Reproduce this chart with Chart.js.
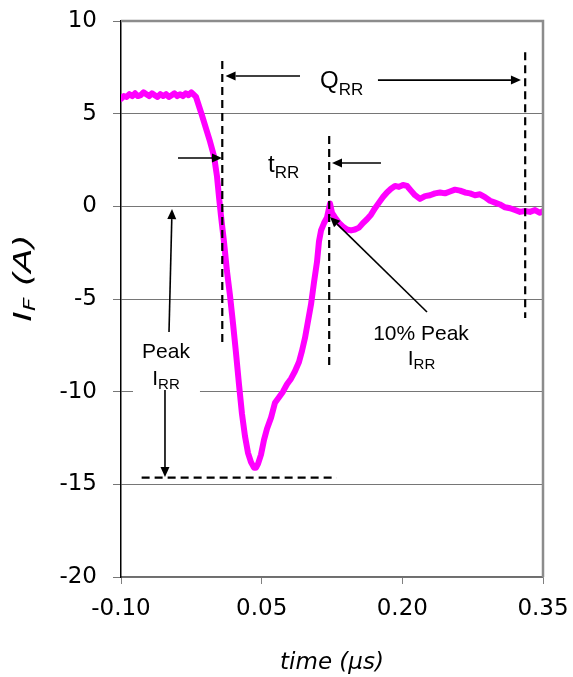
<!DOCTYPE html>
<html><head><meta charset="utf-8">
<script src="https://cdn.jsdelivr.net/npm/chart.js@4.4.1/dist/chart.umd.min.js"></script>
<style>html,body{margin:0;padding:0;background:#fff;}canvas{display:block;}</style>
</head><body>
<canvas id="c" width="573" height="677"></canvas>
<script>
// ---- data ----
const timeUs = [
-0.100,-0.097,-0.094,-0.091,-0.088,-0.085,-0.082,-0.079,-0.076,-0.073,
-0.070,-0.067,-0.064,-0.061,-0.058,-0.055,-0.052,-0.049,-0.046,-0.043,
-0.040,-0.037,-0.034,-0.031,-0.028,-0.025,-0.023,-0.020,-0.0168,-0.0136,
-0.0094,-0.0051,-0.0008,0.0024,0.0045,0.0066,0.0098,0.0130,0.0162,0.0194,
0.0226,0.0258,0.0290,0.0322,0.0354,0.0386,0.0418,0.0440,0.0461,0.0493,
0.0525,0.0557,0.0600,0.0642,0.0685,0.0727,0.0770,0.0813,0.0855,0.0898,
0.0930,0.0962,0.0994,0.1026,0.1058,0.1090,0.1111,0.1133,0.1165,0.1197,
0.1229,0.1250,0.1282,0.1325,0.1367,0.1410,0.1453,0.1495,0.1538,0.1581,
0.1623,0.1666,0.1709,0.1751,0.1794,0.1836,0.1879,0.1922,0.1964,0.2007,
0.2050,0.2092,0.2135,0.2188,0.2242,0.2295,0.2348,0.2402,0.2455,0.2508,
0.2562,0.2615,0.2668,0.2722,0.2775,0.2828,0.2881,0.2935,0.2988,0.3041,
0.3095,0.3148,0.3201,0.3255,0.3308,0.3361,0.3415,0.3468,0.3500];
const currentA = [
5.80,5.95,5.90,6.05,5.95,6.10,5.95,6.00,6.15,6.05,
5.95,6.10,6.00,5.90,6.05,5.95,6.05,5.90,6.00,6.10,
5.95,6.05,5.95,6.10,6.00,6.15,6.05,5.90,5.40,4.90,
4.20,3.50,2.70,1.60,0.50,-0.50,-1.90,-3.50,-4.80,-6.30,
-7.90,-9.60,-11.20,-12.40,-13.30,-13.80,-14.10,-14.10,-13.90,-13.40,
-12.60,-12.00,-11.40,-10.60,-10.30,-10.00,-9.60,-9.30,-8.90,-8.40,
-7.80,-7.10,-6.20,-5.30,-4.10,-3.00,-1.90,-1.30,-0.90,-0.60,
0.15,-0.35,-0.60,-0.90,-1.10,-1.25,-1.30,-1.25,-1.15,-0.90,
-0.70,-0.45,-0.10,0.20,0.50,0.75,0.95,1.10,1.05,1.15,
1.10,0.85,0.60,0.40,0.55,0.60,0.70,0.75,0.70,0.80,
0.90,0.85,0.75,0.70,0.60,0.65,0.50,0.30,0.20,0.10,
-0.05,-0.10,-0.20,-0.30,-0.25,-0.30,-0.20,-0.35,-0.25];
const xTickValues = [-0.10, 0.05, 0.20, 0.35];
const yTickValues = [-20, -15, -10, -5, 0, 5, 10];
const xTitleText = 'time (μs)';

// ---- annotation definitions (data coordinates) ----
const FONT = '"Liberation Sans", Arial, Helvetica, sans-serif';
const AXFONT = '"DejaVu Sans", Verdana, sans-serif';
const dashedLines = [
  {x1: 0.008, y1: 7.84, x2: 0.008, y2: -7.43},
  {x1: 0.122, y1: 3.79, x2: 0.122, y2: -8.67},
  {x1: 0.331, y1: 8.32, x2: 0.331, y2: -6.03},
  {x1: -0.078, y1: -14.64, x2: 0.130, y2: -14.64}
];
const arrows = [
  {x1: 0.0909, y1: 7.03, x2: 0.0115, y2: 7.03},
  {x1: 0.174, y1: 6.81, x2: 0.3265, y2: 6.81},
  {x1: -0.0392, y1: 2.61, x2: 0.0077, y2: 2.61},
  {x1: 0.1772, y1: 2.34, x2: 0.125, y2: 2.34},
  {x1: -0.0488, y1: -6.78, x2: -0.0456, y2: -0.15},
  {x1: -0.0531, y1: -9.91, x2: -0.0531, y2: -14.61},
  {x1: 0.2263, y1: -5.70, x2: 0.1229, y2: -0.58}
];
const whiteBoxes = [ {x1: -0.0872, y1: -6.99, x2: -0.0158, y2: -10.25} ];
const textLabels = [
  {x: 0.1122, y: 6.38, align: 'left', parts: [{t: 'Q', s: 24}, {t: 'RR', s: 17, dy: 7}]},
  {x: 0.0568, y: 1.85, align: 'left', parts: [{t: 't', s: 24}, {t: 'RR', s: 17, dy: 6}]},
  {x: -0.052, y: -8.19, align: 'center', parts: [{t: 'Peak', s: 21}]},
  {x: -0.052, y: -9.64, align: 'center', parts: [{t: 'I', s: 21}, {t: 'RR', s: 15, dy: 4}]},
  {x: 0.2199, y: -7.22, align: 'center', parts: [{t: '10% Peak', s: 21}]},
  {x: 0.2204, y: -8.56, align: 'center', parts: [{t: 'I', s: 21}, {t: 'RR', s: 15, dy: 4}]}
];
const yTitleParts = [{t: 'I', s: 24, i: true, f: AXFONT}, {t: 'F', s: 16, i: true, dy: 4, f: AXFONT}, {t: ' (A)', s: 24, i: true, f: AXFONT}];

function drawRich(ctx, parts, x, y, align) {
  let w = 0; const ms = [];
  const fnt = p => (p.i ? 'italic ' : '') + p.s + 'px ' + (p.f || FONT);
  for (const p of parts) {
    ctx.font = fnt(p);
    const m = ctx.measureText(p.t).width; ms.push(m); w += m;
  }
  let cx = align === 'center' ? x - w / 2 : (align === 'right' ? x - w : x);
  ctx.textAlign = 'left'; ctx.textBaseline = 'alphabetic';
  parts.forEach((p, k) => {
    ctx.font = fnt(p);
    ctx.fillText(p.t, cx, y + (p.dy || 0));
    cx += ms[k];
  });
}

function drawArrow(ctx, x1, y1, x2, y2) {
  const ang = Math.atan2(y2 - y1, x2 - x1);
  const hl = 10, hw = 4.5;
  const bx = x2 - hl * Math.cos(ang), by = y2 - hl * Math.sin(ang);
  ctx.beginPath(); ctx.moveTo(x1, y1); ctx.lineTo(bx, by); ctx.stroke();
  ctx.beginPath();
  ctx.moveTo(x2, y2);
  ctx.lineTo(bx + hw * Math.sin(ang), by - hw * Math.cos(ang));
  ctx.lineTo(bx - hw * Math.sin(ang), by + hw * Math.cos(ang));
  ctx.closePath(); ctx.fill();
}

const annotPlugin = {
  id: 'annot',
  afterDatasetsDraw(chart) {
    const {ctx, chartArea: a} = chart;
    const sx = chart.scales.x, sy = chart.scales.y;
    const px = v => sx.getPixelForValue(v), py = v => sy.getPixelForValue(v);
    ctx.save();
    ctx.strokeStyle = '#8c8c8c'; ctx.lineWidth = 2.5;
    ctx.beginPath(); ctx.moveTo(a.left, a.top); ctx.lineTo(a.right, a.top); ctx.lineTo(a.right, a.bottom); ctx.stroke();
    ctx.fillStyle = '#ffffff';
    for (const b of whiteBoxes) {
      ctx.fillRect(px(b.x1), py(b.y1), px(b.x2) - px(b.x1), py(b.y2) - py(b.y1));
    }
    ctx.strokeStyle = '#000'; ctx.lineWidth = 2.2; ctx.setLineDash([8, 5]);
    for (const d of dashedLines) {
      ctx.beginPath(); ctx.moveTo(px(d.x1), py(d.y1)); ctx.lineTo(px(d.x2), py(d.y2)); ctx.stroke();
    }
    ctx.setLineDash([]);
    ctx.lineWidth = 1.6; ctx.fillStyle = '#000';
    for (const r of arrows) drawArrow(ctx, px(r.x1), py(r.y1), px(r.x2), py(r.y2));
    ctx.fillStyle = '#000';
    for (const l of textLabels) drawRich(ctx, l.parts, px(l.x), py(l.y), l.align);
    // y-axis title (rotated)
    ctx.translate(31, 278);
    ctx.rotate(-Math.PI / 2);
    ctx.scale(1.48, 1);
    drawRich(ctx, yTitleParts, 0, 0, 'center');
    ctx.restore();
  }
};

const points = timeUs.map((t, k) => ({x: t, y: currentA[k]}));

new Chart(document.getElementById('c'), {
  type: 'line',
  data: {datasets: [{
    data: points,
    borderColor: '#ff00ff',
    borderWidth: 6,
    pointRadius: 0,
    tension: 0,
    borderJoinStyle: 'round',
    borderCapStyle: 'round'
  }]},
  options: {
    responsive: false,
    animation: false,
    devicePixelRatio: 1,
    layout: {padding: {left: 0, right: 30, top: 21, bottom: 0}},
    plugins: {legend: {display: false}, tooltip: {enabled: false}},
    scales: {
      x: {
        type: 'linear', min: -0.10, max: 0.35,
        afterBuildTicks: s => { s.ticks = xTickValues.map(v => ({value: v})); },
        afterFit: s => { s.height = 100; s.paddingLeft = 0; s.paddingRight = 0; },
        ticks: {
          callback: v => Number(v).toFixed(2),
          color: '#000', font: {family: AXFONT, size: 23}, padding: 11,
          maxRotation: 0, autoSkip: false
        },
        grid: {drawOnChartArea: false, drawTicks: true, tickLength: 7, tickColor: '#808080', tickWidth: 1},
        border: {display: true, color: '#6e6e6e', width: 1.5},
        title: {display: true, text: xTitleText, color: '#000',
          font: {family: AXFONT, size: 23, style: 'italic'}, padding: {top: 0, bottom: 0}}
      },
      y: {
        type: 'linear', min: -20, max: 10,
        afterBuildTicks: s => { s.ticks = yTickValues.map(v => ({value: v})); },
        afterFit: s => { s.width = 121; s.paddingTop = 0; s.paddingBottom = 0; },
        ticks: {color: '#000', font: {family: AXFONT, size: 23}, padding: 16},
        grid: {color: '#767676', lineWidth: 1, tickLength: 8, tickColor: '#767676', drawTicks: true},
        border: {display: true, color: '#000', width: 1.5}
      }
    }
  },
  plugins: [annotPlugin]
});
</script>
</body></html>
